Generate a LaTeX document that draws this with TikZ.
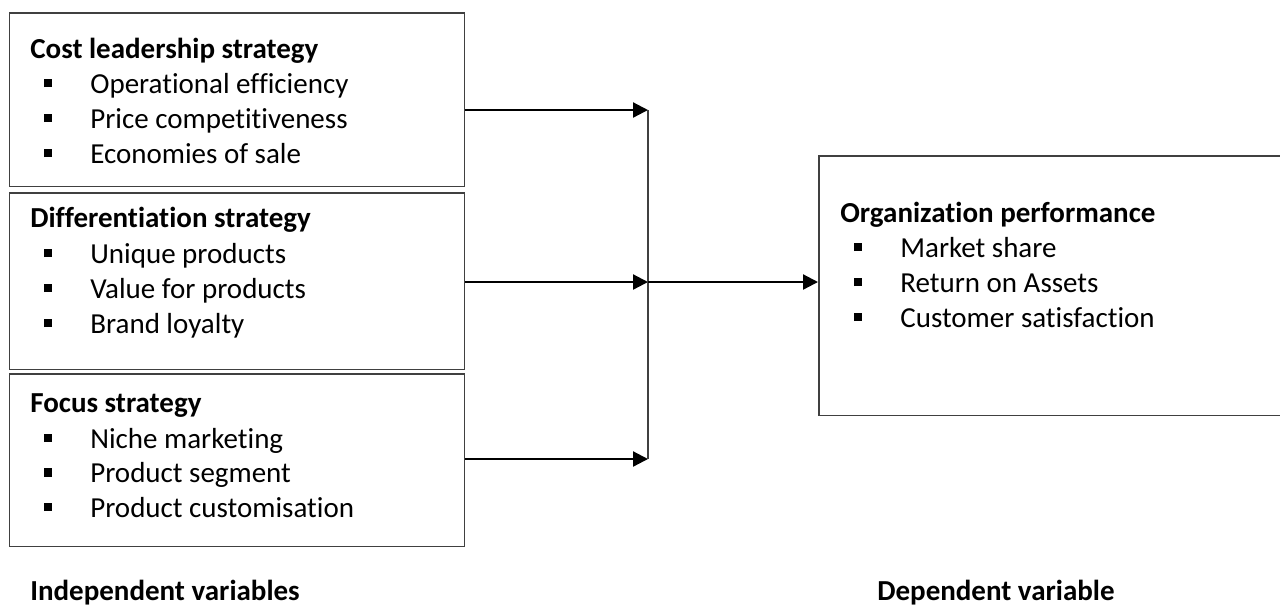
\documentclass[tikz,border=0pt]{standalone}
\usepackage{fontspec}
\setmainfont{Carlito}[Ligatures=NoCommon]
\usetikzlibrary{arrows.meta}

\newcommand{\sqbul}{\makebox[0.92cm][l]{\rule[0.12cm]{0.155cm}{0.165cm}}}

\tikzset{
  box/.style={draw=black!75, line width=0.03cm, anchor=north west, inner sep=0pt},
  head/.style={anchor=base west, inner sep=0pt, font=\fontsize{16.5}{20}\selectfont\bfseries},
  item/.style={anchor=base west, inner sep=0pt, font=\fontsize{16.5}{20}\selectfont},
  link/.style={line width=0.045cm, -{Triangle[length=0.3cm,width=0.3cm]}},
}

\begin{document}
\begin{tikzpicture}[x=0.02cm,y=-0.02cm]
\useasboundingbox (0,0) rectangle (1280,606);

% strategy boxes
\node[box, minimum width=9.1cm, minimum height=3.48cm] (cost) at (9,12) {};
\node[box, minimum width=9.1cm, minimum height=3.54cm] (diff) at (9,192) {};
\node[box, minimum width=9.1cm, minimum height=3.46cm] (focus) at (9,373) {};
\node[box, minimum width=9.64cm, minimum height=5.2cm] (perf) at (818,155) {};

% box texts
\node[head] (costhead) at (30,58) {Cost leadership strategy};
\foreach \t [count=\i] in {Operational efficiency, Price competitiveness, Economies of sale}
  \node[item] (cost\i) at (44,{93+35*(\i-1)}) {\sqbul\t};

\node[head] (diffhead) at (30,227) {Differentiation strategy};
\foreach \t [count=\i] in {Unique products, Value for products, Brand loyalty}
  \node[item] (diff\i) at (44,{263+35*(\i-1)}) {\sqbul\t};

\node[head] (focushead) at (30,412) {Focus strategy};
\foreach \t [count=\i] in {Niche marketing, Product segment, Product customisation}
  \node[item] (focus\i) at (44,{448+34.5*(\i-1)}) {\sqbul\t};

\node[head] (perfhead) at (840,222) {Organization performance};
\foreach \t [count=\i] in {Market share, Return on Assets, Customer satisfaction}
  \node[item] (perf\i) at (854,{257+35*(\i-1)}) {\sqbul\t};

% captions
\node[head] (indep) at (30,600) {Independent variables};
\node[head] (dep) at (877,600) {Dependent variable};

% connectors
\coordinate (j1) at (648,110);
\coordinate (j2) at (648,282);
\coordinate (j3) at (648,459);
\draw[link] (cost.east |- j1) -- (j1);
\draw[link] (diff.east |- j2) -- (j2);
\draw[link] (focus.east |- j3) -- (j3);
\draw[black!75, line width=0.025cm] (j1) -- (j3);
\draw[link] (j2) -- (perf.west |- j2);
\end{tikzpicture}
\end{document}
